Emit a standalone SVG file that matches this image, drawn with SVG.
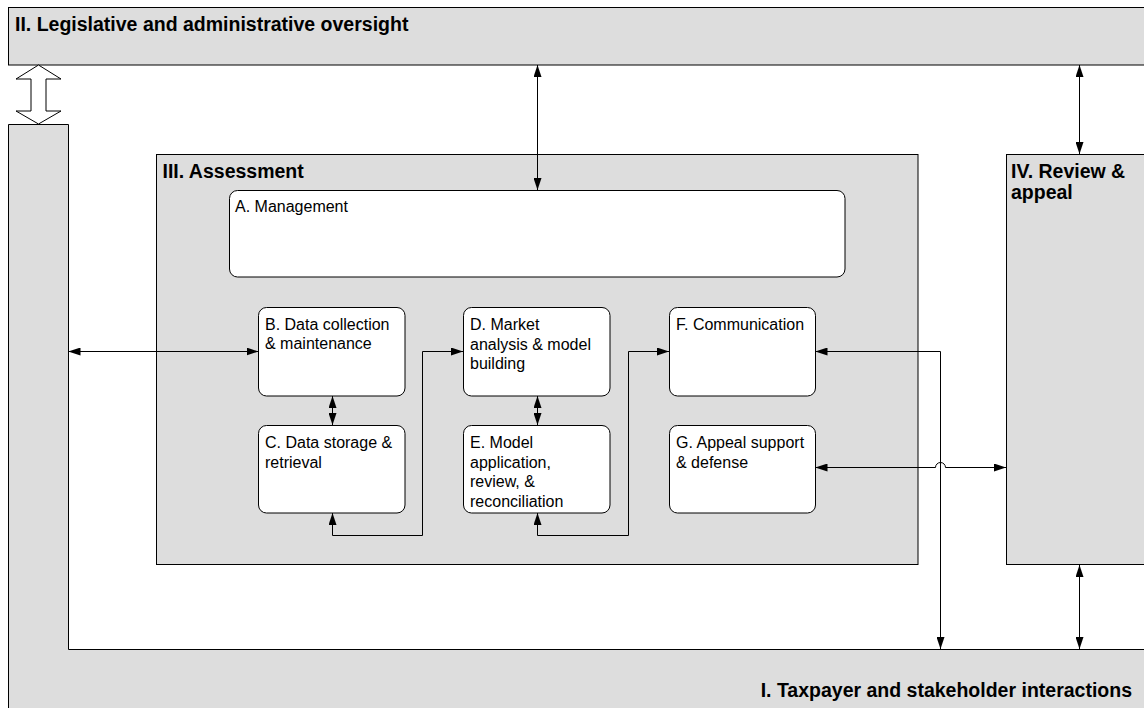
<svg xmlns="http://www.w3.org/2000/svg" width="1144" height="708" viewBox="0 0 1144 708">
<style>
.region{fill:#dddddd;stroke:#000;stroke-width:1}
.node{fill:#fff;stroke:#000;stroke-width:1}
.title{font-family:"Liberation Sans",Arial,sans-serif;font-weight:bold;font-size:19.5px;fill:#000}
.lbl{font-family:"Liberation Sans",Arial,sans-serif;font-size:16px;fill:#000}
.conn{fill:none;stroke:#000;stroke-width:1}
</style>
<defs>
<marker id="ah" markerUnits="userSpaceOnUse" markerWidth="12" markerHeight="8" refX="12" refY="4" orient="auto-start-reverse">
<path d="M0,0 L12,4 L0,8 z" fill="#000"/>
</marker>
</defs>
<g id="region-II">
<rect class="region" x="8.5" y="7.5" width="1150" height="57.5"/>
<text class="title" x="15" y="31">II. Legislative and administrative oversight</text>
</g>
<g id="region-I">
<path class="region" d="M8.5,124.5 H68.5 V649.5 H1150 V715 H8.5 Z"/>
<text class="title" x="1132" y="697" text-anchor="end">I. Taxpayer and stakeholder interactions</text>
</g>
<g id="hollow-arrow">
<polygon points="38.5,65 61,79 46,79 46,111 61,111 38.5,124 16,111 31,111 31,79 16,79" fill="#fff" stroke="#000" stroke-width="1"/>
</g>
<g id="region-III">
<rect class="region" x="156.5" y="154.5" width="761.5" height="410"/>
<text class="title" x="162.5" y="178">III. Assessment</text>
</g>
<g id="region-IV">
<rect class="region" x="1006.5" y="154.5" width="150" height="410"/>
<text class="title" x="1011" y="178">IV. Review &amp;</text>
<text class="title" x="1011" y="199">appeal</text>
</g>
<g id="node-A">
<rect class="node" x="229.5" y="190.5" width="615.5" height="86.5" rx="8"/>
<text class="lbl" x="235" y="212">A. Management</text>
</g>
<g id="node-B">
<rect class="node" x="258.5" y="307.5" width="146.5" height="88.5" rx="8"/>
<text class="lbl" x="265" y="330">B. Data collection</text>
<text class="lbl" x="265" y="349">&amp; maintenance</text>
</g>
<g id="node-C">
<rect class="node" x="258.5" y="425.5" width="146.5" height="87.5" rx="8"/>
<text class="lbl" x="265" y="448">C. Data storage &amp;</text>
<text class="lbl" x="265" y="468">retrieval</text>
</g>
<g id="node-D">
<rect class="node" x="463.5" y="307.5" width="146.5" height="88.5" rx="8"/>
<text class="lbl" x="470" y="330">D. Market</text>
<text class="lbl" x="470" y="350">analysis &amp; model</text>
<text class="lbl" x="470" y="369">building</text>
</g>
<g id="node-E">
<rect class="node" x="463.5" y="425.5" width="146.5" height="87.5" rx="8"/>
<text class="lbl" x="470" y="448">E. Model</text>
<text class="lbl" x="470" y="468">application,</text>
<text class="lbl" x="470" y="487">review, &amp;</text>
<text class="lbl" x="470" y="507">reconciliation</text>
</g>
<g id="node-F">
<rect class="node" x="669.5" y="307.5" width="146" height="88.5" rx="8"/>
<text class="lbl" x="676" y="330">F. Communication</text>
</g>
<g id="node-G">
<rect class="node" x="669.5" y="425.5" width="146" height="87.5" rx="8"/>
<text class="lbl" x="676" y="448">G. Appeal support</text>
<text class="lbl" x="676" y="468">&amp; defense</text>
</g>
<g id="connectors">
<path class="conn" d="M537.5,65 V190" marker-start="url(#ah)" marker-end="url(#ah)"/>
<path class="conn" d="M1079.5,65 V154" marker-start="url(#ah)" marker-end="url(#ah)"/>
<path class="conn" d="M68.5,351.5 H258.5" marker-start="url(#ah)" marker-end="url(#ah)"/>
<path class="conn" d="M332.5,396 V425" marker-start="url(#ah)" marker-end="url(#ah)"/>
<path class="conn" d="M537.5,396 V425" marker-start="url(#ah)" marker-end="url(#ah)"/>
<path class="conn" d="M332.5,513 V535.5 H422.5 V351.5 H463" marker-start="url(#ah)" marker-end="url(#ah)"/>
<path class="conn" d="M537.5,513 V535.5 H628.5 V351.5 H669" marker-start="url(#ah)" marker-end="url(#ah)"/>
<path class="conn" d="M815.5,351.5 H940.5 V649" marker-start="url(#ah)" marker-end="url(#ah)"/>
<path class="conn" d="M815.5,467.5 H935.5 A5,5 0 0 1 945.5,467.5 H1006" marker-start="url(#ah)" marker-end="url(#ah)"/>
<path class="conn" d="M1079.5,565 V649" marker-start="url(#ah)" marker-end="url(#ah)"/>
</g>
</svg>
